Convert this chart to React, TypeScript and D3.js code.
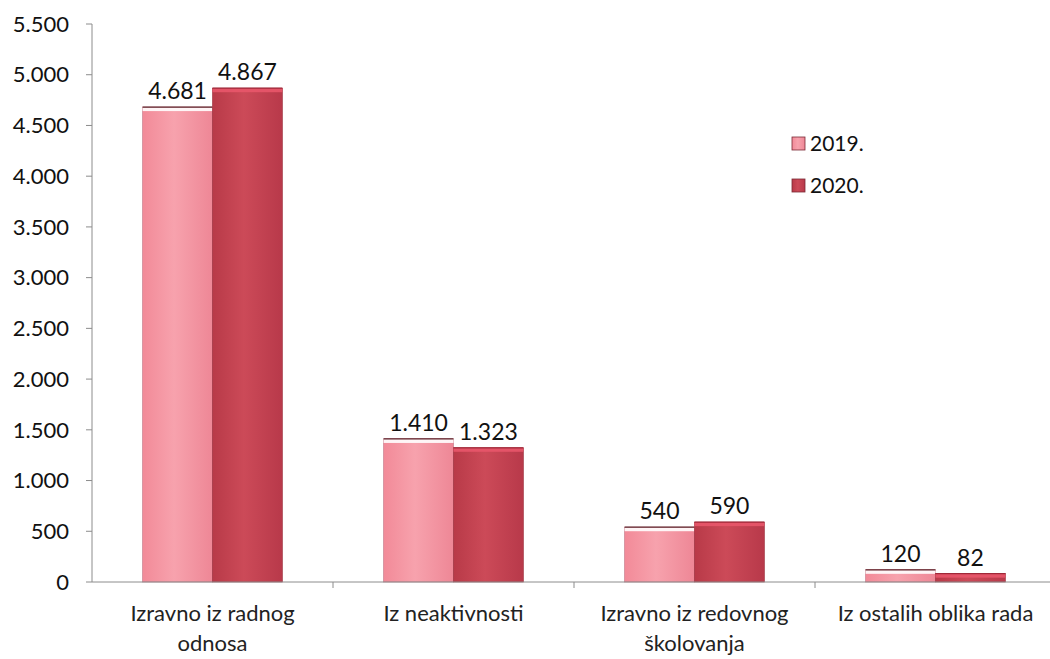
import React from "react";
import * as d3 from "d3";

const categories = [
  ["Izravno iz radnog", "odnosa"],
  ["Iz neaktivnosti"],
  ["Izravno iz redovnog", "školovanja"],
  ["Iz ostalih oblika rada"],
];
const seriesNames = ["2019.", "2020."];
const values2019 = [4681, 1410, 540, 120];
const values2020 = [4867, 1323, 590, 82];
const yTicks = [0, 500, 1000, 1500, 2000, 2500, 3000, 3500, 4000, 4500, 5000, 5500];

const width = 1050;
const height = 659;
const margin = { top: 24, right: -6, bottom: 77, left: 92 };
const font = "Lato, 'Open Sans', sans-serif";

const fmt = (v: number) => d3.format(",")(v).replace(/,/g, ".");

const App: React.FC = () => {
  const x0 = d3
    .scaleBand<number>()
    .domain(d3.range(categories.length))
    .range([margin.left, width - margin.right])
    .paddingInner(0.42)
    .paddingOuter(0.21);
  const x1 = d3.scaleBand<number>().domain([0, 1]).range([0, x0.bandwidth()]);
  const y = d3
    .scaleLinear()
    .domain([0, 5500])
    .range([height - margin.bottom, margin.top]);

  const seriesValues = [values2019, values2020];
  const fills = ["url(#g2019)", "url(#g2020)"];
  const topColors = ["#ffffff", "#e8566a"];
  const y0 = y(0);
  const step = x0.step();
  const boundaries = d3.range(1, categories.length).map(i => margin.left + step * i);

  return (
    <svg width={width} height={height} style={{ display: "block", position: "absolute", left: 0, top: 0 }}>
      <defs>
        <linearGradient id="g2019" x1="0" x2="1" y1="0" y2="0">
          <stop offset="0" stopColor="#f28a98" />
          <stop offset="0.45" stopColor="#f7a2ad" />
          <stop offset="1" stopColor="#ee8796" />
        </linearGradient>
        <linearGradient id="g2020" x1="0" x2="1" y1="0" y2="0">
          <stop offset="0" stopColor="#b83a48" />
          <stop offset="0.45" stopColor="#cc4a58" />
          <stop offset="1" stopColor="#b8394a" />
        </linearGradient>
      </defs>
      <rect width={width} height={height} fill="#ffffff" />

      {/* bars */}
      {categories.map((_, ci) =>
        seriesValues.map((vals, si) => {
          const bx = (x0(ci) ?? 0) + (x1(si) ?? 0);
          const by = y(vals[ci]);
          const bw = x1.bandwidth();
          return (
            <g key={`${ci}-${si}`}>
              <rect x={bx} y={by} width={bw} height={y0 - by} fill={fills[si]} stroke={si === 0 ? "#c07080" : "#9a2a38"} strokeWidth={0.6} />
              <rect x={bx} y={by} width={bw} height={Math.min(4, y0 - by)} fill={topColors[si]} opacity={0.9} />
              <line x1={bx} x2={bx + bw} y1={by} y2={by} stroke={si === 0 ? "#5a1a22" : "#a02838"} strokeWidth={1.2} />
              <text
                x={bx + bw / 2}
                y={by - 8}
                textAnchor="middle"
                fontFamily={font}
                fontSize={23}
                fill="#111"
              >
                {fmt(vals[ci])}
              </text>
            </g>
          );
        })
      )}

      {/* y axis */}
      <line x1={margin.left} x2={margin.left} y1={y(5500)} y2={y0} stroke="#8c8c8c" strokeWidth={1} />
      {yTicks.map(t => (
        <g key={t}>
          <line x1={margin.left - 6} x2={margin.left} y1={y(t)} y2={y(t)} stroke="#8c8c8c" />
          <text
            x={69}
            y={y(t)}
            dy="0.35em"
            textAnchor="end"
            fontFamily={font}
            fontSize={22}
            fill="#111"
          >
            {fmt(t)}
          </text>
        </g>
      ))}

      {/* x axis */}
      <line x1={margin.left} x2={width} y1={y0} y2={y0} stroke="#8c8c8c" strokeWidth={1} />
      {boundaries.map(b => (
        <line key={b} x1={b} x2={b} y1={y0} y2={y0 + 6} stroke="#8c8c8c" />
      ))}
      {categories.map((lines, ci) => (
        <text
          key={ci}
          x={(x0(ci) ?? 0) + x0.bandwidth() / 2}
          y={y0 + 39}
          textAnchor="middle"
          fontFamily={font}
          fontSize={22}
          fill="#222"
        >
          {lines.map((l, li) => (
            <tspan key={li} x={(x0(ci) ?? 0) + x0.bandwidth() / 2} dy={li === 0 ? 0 : 30}>
              {l}
            </tspan>
          ))}
        </text>
      ))}

      {/* legend */}
      {seriesNames.map((n, i) => (
        <g key={n} transform={`translate(792,${137 + i * 42})`}>
          <rect width={13} height={13} fill={fills[i]} stroke="#7a2a36" strokeWidth={0.8} />
          <text x={18} y={7} dy="0.35em" fontFamily={font} fontSize={21} fill="#111">
            {n}
          </text>
        </g>
      ))}
    </svg>
  );
};

export default App;
